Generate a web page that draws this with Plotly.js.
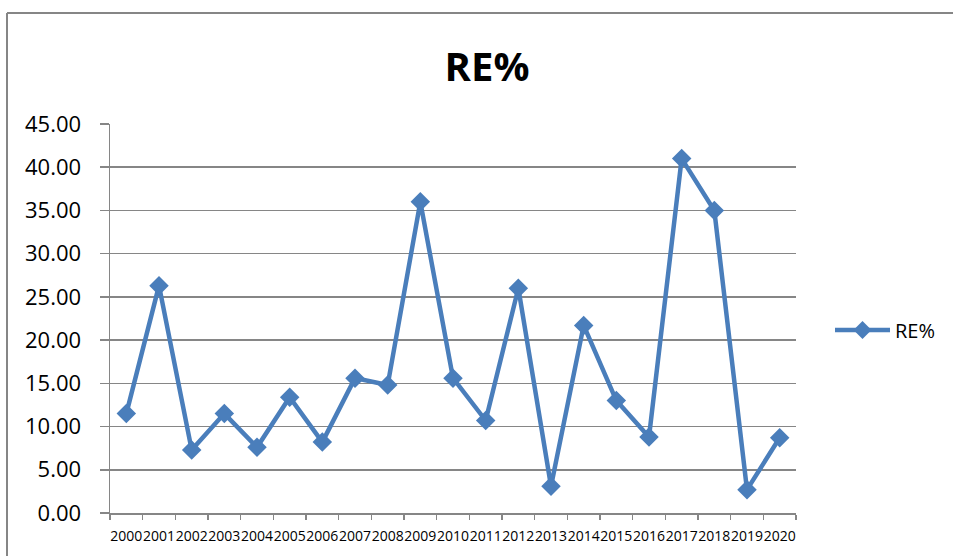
<!DOCTYPE html>
<html>
<head>
<meta charset="utf-8">
<script src="https://cdn.plot.ly/plotly-3.0.1.min.js"></script>
<style>
  html, body { margin: 0; padding: 0; background: #ffffff; }
  #chart { width: 953px; height: 556px; }
</style>
</head>
<body>
<div id="chart"></div>
<script>
// Data
const years = ["2000","2001","2002","2003","2004","2005","2006","2007","2008","2009","2010",
               "2011","2012","2013","2014","2015","2016","2017","2018","2019","2020"];
const reValues = [11.5, 26.3, 7.3, 11.5, 7.6, 13.4, 8.2, 15.6, 14.8, 36.0, 15.6,
                  10.7, 26.0, 3.1, 21.7, 13.0, 8.8, 41.0, 35.0, 2.7, 8.7];
const seriesName = "RE%";
const chartTitle = "RE%";
const yTickVals = [0, 5, 10, 15, 20, 25, 30, 35, 40, 45];

const blue = "#4a7ebb";
const gray = "#868686";
const fontFam = "'Open Sans', 'Liberation Sans', sans-serif";

// plot-area geometry (pixels) used to place decorations in paper coordinates
const L = 110, R = 796, T = 124, B = 513;
const px = v => (v - L) / (R - L);
const py = v => (B - v) / (B - T);

const trace = {
  type: "scatter",
  mode: "lines+markers",
  name: seriesName,
  x: years,
  y: reValues,
  line: { color: blue, width: 4.5 },
  marker: { symbol: "diamond", size: 15, color: blue },
  showlegend: false
};

// Legend sample (Excel style: long line with a diamond in the middle)
const legY = 330, legX0 = 835, legX1 = 890, legD = 9;
const legendShapes = [
  { type: "line", xref: "paper", yref: "paper",
    x0: px(legX0), x1: px(legX1), y0: py(legY), y1: py(legY),
    line: { color: blue, width: 4.5 } },
  { type: "path", xref: "paper", yref: "paper",
    path: "M" + px((legX0 + legX1) / 2) + "," + py(legY - legD) +
          " L" + px((legX0 + legX1) / 2 + legD) + "," + py(legY) +
          " L" + px((legX0 + legX1) / 2) + "," + py(legY + legD) +
          " L" + px((legX0 + legX1) / 2 - legD) + "," + py(legY) + " Z",
    fillcolor: blue, line: { color: blue, width: 0 } }
];

const layout = {
  width: 953,
  height: 556,
  margin: { l: L, r: 953 - R, t: T, b: 556 - B },
  paper_bgcolor: "#ffffff",
  plot_bgcolor: "#ffffff",
  font: { family: fontFam, color: "#000000" },
  title: {
    text: "<b>" + chartTitle + "</b>",
    font: { family: fontFam, size: 40, color: "#000000" },
    xref: "paper", x: px(487), xanchor: "center",
    yref: "container", y: 1 - 67 / 556, yanchor: "middle"
  },
  showlegend: false,
  annotations: [
    { xref: "paper", yref: "paper", x: px(893), y: py(legY),
      xanchor: "left", yanchor: "middle", showarrow: false,
      text: seriesName,
      font: { family: fontFam, size: 20, color: "#000000" } }
  ],
  xaxis: {
    type: "category",
    range: [-0.5, years.length - 0.5],
    showgrid: false,
    showline: true, linecolor: gray, linewidth: 1.5,
    ticks: "outside", ticklen: 5, tickcolor: gray, tickwidth: 1.5,
    tickson: "boundaries",
    tickangle: 0,
    ticklabelstandoff: 10,
    tickfont: { family: fontFam, size: 14, color: "#000000" },
    fixedrange: true
  },
  yaxis: {
    range: [0, 45],
    tickvals: yTickVals,
    tickformat: ".2f",
    showgrid: true, gridcolor: gray, gridwidth: 1.5,
    zeroline: false,
    showline: true, linecolor: gray, linewidth: 1.5,
    ticks: "outside", ticklen: 9, tickcolor: gray, tickwidth: 1.5,
    ticklabelstandoff: 14,
    tickfont: { family: fontFam, size: 22, color: "#000000" },
    fixedrange: true
  },
  shapes: [
    { type: "line", xref: "paper", yref: "paper",
      x0: px(7), x1: px(7), y0: py(13), y1: py(560),
      line: { color: gray, width: 2 } },
    { type: "line", xref: "paper", yref: "paper",
      x0: px(7), x1: px(960), y0: py(13), y1: py(13),
      line: { color: gray, width: 2 } }
  ].concat(legendShapes)
};

Plotly.newPlot("chart", [trace], layout, { staticPlot: true, displayModeBar: false });
</script>
</body>
</html>
